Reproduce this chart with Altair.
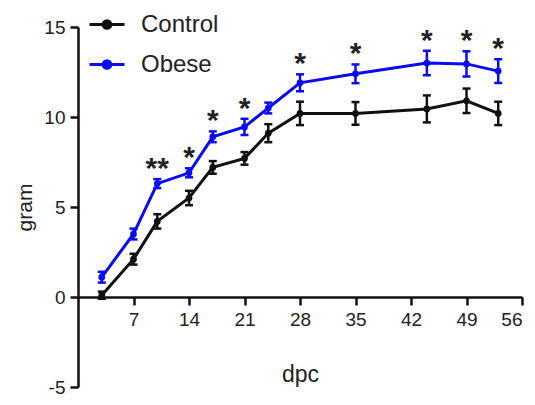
import altair as alt
import pandas as pd

# ---- data ----
days = [3, 7, 10, 14, 17, 21, 24, 28, 35, 44, 49, 53]
control = [0.1, 2.1, 4.2, 5.5, 7.2, 7.7, 9.1, 10.2, 10.2, 10.45, 10.9, 10.2]
control_sem = [0.2, 0.3, 0.4, 0.4, 0.35, 0.35, 0.5, 0.65, 0.63, 0.75, 0.68, 0.65]
obese = [1.1, 3.5, 6.3, 6.9, 8.9, 9.45, 10.5, 11.9, 12.4, 13.0, 12.95, 12.55]
obese_sem = [0.3, 0.3, 0.25, 0.25, 0.3, 0.45, 0.3, 0.47, 0.52, 0.68, 0.7, 0.66]
stars = ["", "", "**", "*", "*", "*", "", "*", "*", "*", "*", "*"]
groups = ["Control", "Obese"]
colors = ["#111111", "#0b0bf0"]
x_ticks = [7, 14, 21, 28, 35, 42, 49, 56]
y_ticks = [-5, 0, 5, 10, 15]

rows = []
for g, vals, sems in [("Control", control, control_sem), ("Obese", obese, obese_sem)]:
    for d, v, s in zip(days, vals, sems):
        rows.append({"dpc": d, "gram": v, "lo": v - s, "hi": v + s, "group": g})
df = pd.DataFrame(rows)

star_df = pd.DataFrame({
    "dpc": days,
    "label": stars,
    "ypos": [o + s + 1.0 for o, s in zip(obese, obese_sem)],
})
star_df = star_df[star_df["label"] != ""]

W, H = 444, 360
FONT = "Liberation Sans"

xs = alt.Scale(domain=[0, 56], nice=False, zero=False)
ys = alt.Scale(domain=[-5, 15], nice=False, zero=False)
cscale = alt.Scale(domain=groups, range=colors)

x_axis = alt.Axis(values=x_ticks, offset=-H / 4, title="dpc", labelPadding=5,
                  titlePadding=34)
y_axis = alt.Axis(values=y_ticks, title="gram", labelPadding=5, titlePadding=8,
                  labelExpr="'' + datum.value")

legend_path = "M-1,0L1,0M-0.22,0A0.22,0.22,0,1,1,0.22,0A0.22,0.22,0,1,1,-0.22,0Z"
leg = alt.Legend(title=None, orient="none", legendX=10, legendY=-21.5,
                 symbolType=legend_path, symbolSize=1225, symbolStrokeWidth=3,
                 labelFontSize=24, labelOffset=15, rowPadding=9, padding=0,
                 labelFont=FONT, labelColor="#222222")

X = alt.X("dpc:Q", scale=xs, axis=x_axis, title="dpc")
Y = alt.Y("gram:Q", scale=ys, axis=y_axis, title="gram")

base = alt.Chart(df)

lines = base.mark_line(strokeWidth=3).encode(
    x=X, y=Y,
    stroke=alt.Stroke("group:N", scale=cscale, legend=leg),
    detail="group:N",
)
bars = base.mark_rule(strokeWidth=2.5).encode(
    x=X,
    y=alt.Y("lo:Q", scale=ys, axis=y_axis, title="gram"),
    y2="hi:Q",
    color=alt.Color("group:N", scale=cscale, legend=None),
)
cap_lo = base.mark_tick(orient="horizontal", size=8, thickness=2.5, opacity=1).encode(
    x=X,
    y=alt.Y("lo:Q", scale=ys, axis=y_axis, title="gram"),
    color=alt.Color("group:N", scale=cscale, legend=None),
)
cap_hi = base.mark_tick(orient="horizontal", size=8, thickness=2.5, opacity=1).encode(
    x=X,
    y=alt.Y("hi:Q", scale=ys, axis=y_axis, title="gram"),
    color=alt.Color("group:N", scale=cscale, legend=None),
)
points = base.mark_circle(size=45, opacity=1).encode(
    x=X, y=Y,
    fill=alt.Fill("group:N", scale=cscale, legend=leg),
)
star_text = alt.Chart(star_df).mark_text(
    fontSize=30, fontWeight="bold", baseline="middle", dy=8, color="#222222", font=FONT
).encode(
    x=X,
    y=alt.Y("ypos:Q", scale=ys, axis=y_axis, title="gram"),
    text="label:N",
)

chart = alt.layer(lines, bars, cap_lo, cap_hi, points, star_text).properties(
    width=W, height=H,
    autosize=alt.AutoSizeParams(type="none"),
    padding={"left": 70, "top": 19, "right": 5, "bottom": 10},
).configure_view(stroke=None).configure_axis(
    grid=False,
    domainColor="#111111", domainWidth=2.5,
    tickColor="#111111", tickWidth=2.5, tickSize=8,
    labelFont=FONT, labelFontSize=19, labelColor="#222222",
    titleFont=FONT, titleFontSize=23, titleFontWeight="normal", titleColor="#222222",
).configure_axisY(titleFontSize=21)

chart.save("out.html", embed_options={"renderer": "svg", "actions": False})
